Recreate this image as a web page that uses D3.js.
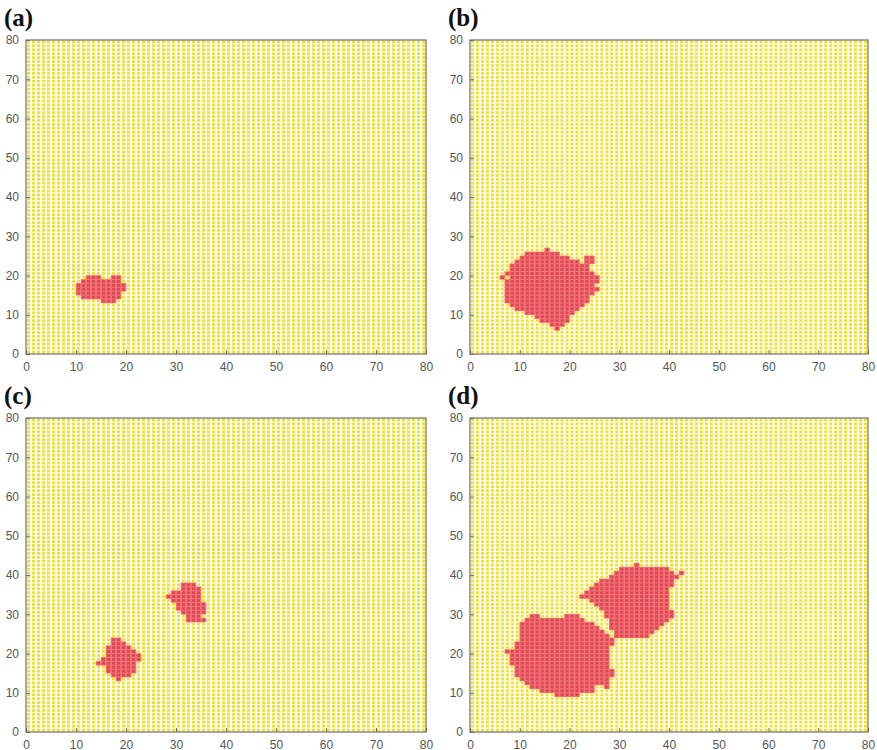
<!DOCTYPE html>
<html>
<head>
<meta charset="utf-8">
<script src="https://cdn.jsdelivr.net/npm/d3@7/dist/d3.min.js"></script>
<style>
  html, body { margin: 0; padding: 0; background: #fff; }
  svg { display: block; }
</style>
</head>
<body>
<svg id="chart" width="877" height="750"></svg>
<script>
// Lattice size (cells per side) and axis ticks
const gridSize = 80;
const tickValues = [0, 10, 20, 30, 40, 50, 60, 70, 80];
const panelLabels = ["(a)", "(b)", "(c)", "(d)"];

// Occupied (red) cells, as row runs: [row, firstColumn, lastColumn]
const redA = [
  [19, 12, 14], [19, 17, 18],
  [18, 11, 18],
  [17, 10, 19],
  [16, 10, 19],
  [15, 10, 18],
  [14, 11, 18],
  [13, 15, 17]
];
const redB = [
  [26, 15, 15],
  [25, 11, 17],
  [24, 10, 19], [24, 23, 24],
  [23, 9, 21], [23, 23, 24],
  [22, 8, 23],
  [21, 8, 23],
  [20, 7, 24],
  [19, 6, 6], [19, 8, 25],
  [18, 7, 25],
  [17, 7, 24],
  [16, 7, 25],
  [15, 7, 24],
  [14, 7, 23],
  [13, 7, 23],
  [12, 8, 22],
  [11, 9, 21],
  [10, 11, 20],
  [9, 13, 19],
  [8, 14, 19],
  [7, 16, 18],
  [6, 17, 17]
];
const redC = [
  [23, 17, 18],
  [22, 17, 19],
  [21, 16, 20],
  [20, 16, 21],
  [19, 16, 22],
  [18, 15, 22],
  [17, 14, 21],
  [16, 16, 21],
  [15, 16, 21],
  [14, 17, 20],
  [13, 18, 18],
  [37, 31, 33],
  [36, 31, 34],
  [35, 29, 34],
  [34, 28, 34],
  [33, 29, 34],
  [32, 30, 35],
  [31, 30, 35],
  [30, 31, 35],
  [29, 32, 34],
  [28, 32, 35]
];
const redD = [
  [29, 12, 13], [29, 19, 21],
  [28, 11, 22],
  [27, 10, 24],
  [26, 10, 25],
  [25, 10, 26],
  [24, 10, 27],
  [23, 10, 28],
  [22, 9, 28],
  [21, 9, 27],
  [20, 7, 27],
  [19, 8, 27],
  [18, 8, 27],
  [17, 8, 27],
  [16, 9, 27],
  [15, 9, 28],
  [14, 9, 28],
  [13, 10, 27],
  [12, 11, 27],
  [11, 12, 24], [11, 27, 27],
  [10, 14, 24],
  [9, 17, 21],
  [42, 33, 33],
  [41, 30, 39],
  [40, 29, 40], [40, 42, 42],
  [39, 28, 41],
  [38, 26, 40],
  [37, 25, 40],
  [36, 24, 39],
  [35, 23, 39],
  [34, 22, 39],
  [33, 24, 39],
  [32, 25, 39],
  [31, 26, 39],
  [30, 27, 40],
  [29, 27, 40],
  [28, 28, 39],
  [27, 28, 38],
  [26, 28, 37],
  [25, 29, 36],
  [24, 29, 35]
];

const panels = [
  { label: panelLabels[0], red: redA, left: 26,  right: 426, top: 40,  bottom: 354 },
  { label: panelLabels[1], red: redB, left: 470, right: 868, top: 40,  bottom: 354 },
  { label: panelLabels[2], red: redC, left: 26,  right: 426, top: 418, bottom: 732 },
  { label: panelLabels[3], red: redD, left: 470, right: 868, top: 418, bottom: 732 }
];

const svg = d3.select("#chart");
const axisColor = "#6e6e6e";
const cells = d3.range(gridSize);

panels.forEach(p => {
  const x = d3.scaleLinear().domain([0, gridSize]).range([p.left, p.right]);
  const y = d3.scaleLinear().domain([0, gridSize]).range([p.bottom, p.top]);
  const cw = x(1) - x(0);
  const ch = y(0) - y(1);
  const g = svg.append("g");

  // yellow lattice of empty sites
  const lattice = [];
  cells.forEach(j => cells.forEach(i => lattice.push([i, j])));
  g.append("g").selectAll("rect").data(lattice).join("rect")
    .attr("x", d => x(d[0] + 0.5) - 1.5)
    .attr("y", d => y(d[1] + 0.5) - 1.4)
    .attr("width", 3)
    .attr("height", 2.8)
    .attr("fill", "#efe22c");

  // red occupied sites expanded from the row runs
  const occupied = [];
  p.red.forEach(([row, a, b]) => {
    d3.range(a, b + 1).forEach(i => occupied.push([i, row]));
  });
  const rg = g.append("g");
  rg.selectAll("rect.bg").data(occupied).join("rect")
    .attr("class", "bg")
    .attr("x", d => x(d[0]) - 0.3)
    .attr("y", d => y(d[1] + 1) - 0.3)
    .attr("width", cw + 0.6)
    .attr("height", ch + 0.6)
    .attr("fill", "#f27474");
  rg.selectAll("rect.core").data(occupied).join("rect")
    .attr("class", "core")
    .attr("x", d => x(d[0] + 0.5) - 1.6)
    .attr("y", d => y(d[1] + 0.5) - 1.4)
    .attr("width", 3.2)
    .attr("height", 2.8)
    .attr("fill", "#e04656");

  // axes with inward ticks
  const xAxis = d3.axisBottom(x).tickValues(tickValues).tickSize(-4).tickPadding(8);
  const yAxis = d3.axisLeft(y).tickValues(tickValues).tickSize(-4).tickPadding(7);
  const gx = g.append("g").attr("transform", `translate(0,${p.bottom})`).call(xAxis);
  const gy = g.append("g").attr("transform", `translate(${p.left},0)`).call(yAxis);
  [gx, gy].forEach(a => {
    a.select(".domain").remove();
    a.selectAll("line").attr("stroke", axisColor);
    a.selectAll("text")
      .attr("fill", "#555")
      .style("font-family", "'Liberation Sans', Arial, sans-serif")
      .style("font-size", "12px");
  });

  // frame
  g.append("rect")
    .attr("x", p.left).attr("y", p.top)
    .attr("width", p.right - p.left).attr("height", p.bottom - p.top)
    .attr("fill", "none").attr("stroke", axisColor).attr("stroke-width", 1.2);

  // panel letter
  g.append("text")
    .attr("x", p.left - 22)
    .attr("y", p.top - 14)
    .text(p.label)
    .attr("fill", "#111")
    .style("font-family", "'Liberation Serif', 'Times New Roman', serif")
    .style("font-weight", "bold")
    .style("font-size", "25px");
});
</script>
</body>
</html>
